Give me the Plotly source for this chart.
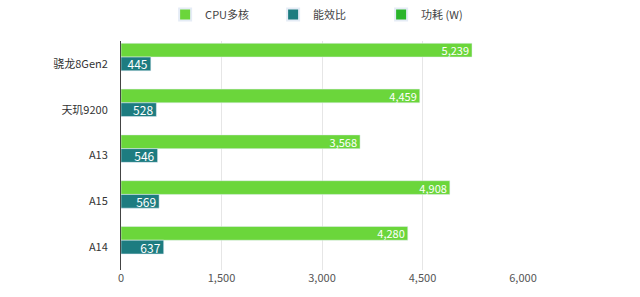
import plotly.graph_objects as go

categories = ["骁龙8Gen2", "天玑9200", "A13", "A15", "A14"]
cpu_multi = [5239, 4459, 3568, 4908, 4280]
efficiency = [445, 528, 546, 569, 637]
power_w = [None, None, None, None, None]
x_ticks = [0, 1500, 3000, 4500, 6000]

font_family = "Noto Sans CJK SC, Noto Sans, sans-serif"

fig = go.Figure()
fig.add_trace(go.Bar(
    y=categories, x=cpu_multi, orientation="h", name="CPU多核",
    marker=dict(color="#6BD63B"),
    text=[f"{v:,}" for v in cpu_multi], textposition="inside", insidetextanchor="end",
    textfont=dict(color="white", size=11, family=font_family),
))
fig.add_trace(go.Bar(
    y=categories, x=efficiency, orientation="h", name="能效比",
    marker=dict(color="#1D7C80"),
    text=[f"{v:,}" for v in efficiency], textposition="inside", insidetextanchor="end",
    textfont=dict(color="white", size=12, family=font_family),
))
fig.add_trace(go.Bar(
    y=categories, x=power_w, orientation="h", name="功耗 (W)",
    marker=dict(color="#2BB52B"),
))

fig.update_layout(
    width=640, height=297,
    margin=dict(l=121, r=117, t=40, b=17),
    paper_bgcolor="white", plot_bgcolor="white",
    barmode="group", bargap=0.1, bargroupgap=0,
    font=dict(family=font_family, size=11, color="#333333"),
    uniformtext=dict(minsize=8, mode="show"),
    legend=dict(
        orientation="h", x=0.258, xanchor="left", xref="container",
        y=1.0, yanchor="top", yref="container",
        font=dict(size=11, color="#444444"),
        entrywidth=63, entrywidthmode="pixels", itemsizing="constant",
        itemwidth=30, traceorder="normal",
    ),
    showlegend=True,
)
fig.update_xaxes(
    range=[0, 6000], tickvals=x_ticks, ticktext=[f"{v:,}" for v in x_ticks],
    showgrid=True, gridcolor="#E6E6E6", gridwidth=1, zeroline=False,
    showline=False, tickfont=dict(size=11, color="#555555"),
)
fig.update_yaxes(
    autorange="reversed", showline=True, linecolor="#444444", linewidth=1,
    ticks="", ticklabelstandoff=10, tickfont=dict(size=11, color="#333333"),
)

fig.write_html("out.html")
